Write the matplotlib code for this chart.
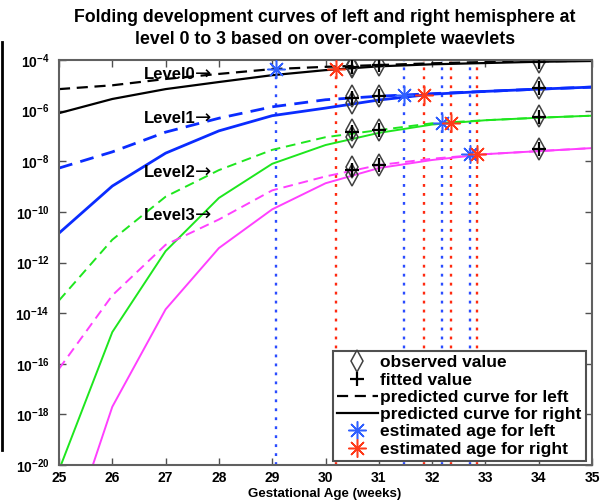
import matplotlib
matplotlib.use("Agg")
import matplotlib.pyplot as plt
from matplotlib.lines import Line2D
from matplotlib.ticker import NullLocator
import numpy as np

plt.rcParams['font.family'] = ['Liberation Sans', 'DejaVu Sans']
plt.rcParams['font.weight'] = 'bold'
plt.rcParams['mathtext.fontset'] = 'custom'
plt.rcParams['mathtext.rm'] = 'Liberation Sans:bold'
plt.rcParams['mathtext.bf'] = 'Liberation Sans:bold'

# ---------------- data (log10 values) ----------------
weeks = [25, 26, 27, 28, 29, 30, 31, 32, 33, 34, 35]

level0_left = [-5.15, -5.0, -4.75, -4.55, -4.36, -4.27, -4.2, -4.13, -4.08, -4.05, -4.03]
level0_right = [-6.1, -5.54, -5.15, -4.87, -4.6, -4.4, -4.25, -4.17, -4.12, -4.07, -4.04]
level1_left = [-8.27, -7.63, -6.85, -6.3, -5.85, -5.57, -5.43, -5.33, -5.24, -5.15, -5.07]
level1_right = [-10.84, -8.98, -7.68, -6.8, -6.2, -5.9, -5.58, -5.35, -5.24, -5.15, -5.07]
level2_left = [-13.5, -11.1, -9.4, -8.35, -7.55, -7.05, -6.77, -6.5, -6.38, -6.28, -6.2]
level2_right = [-20.2, -14.75, -11.55, -9.45, -8.1, -7.36, -6.88, -6.55, -6.38, -6.28, -6.2]
level3_left = [-16.2, -13.3, -11.3, -10.3, -9.15, -8.6, -8.15, -7.9, -7.72, -7.6, -7.48]
level3_right = [-24.0, -17.7, -13.85, -11.43, -9.9, -8.87, -8.27, -7.95, -7.72, -7.6, -7.48]

obs_weeks = [30.5, 30.5, 31, 34]
obs_level0 = [-4.24, -4.28, -4.18, -4.06]
obs_level1 = [-5.44, -5.68, -5.44, -5.09]
obs_level2 = [-6.75, -7.06, -6.75, -6.23]
obs_level3 = [-8.21, -8.53, -8.13, -7.5]

fit_weeks = [30.5, 31, 34]
fit_level0 = [-4.27, -4.19, -4.06]
fit_level1 = [-5.52, -5.44, -5.1]
fit_level2 = [-6.85, -6.76, -6.24]
fit_level3 = [-8.35, -8.15, -7.5]

est_left_age = [29.08, 31.48, 32.19, 32.72]
est_left_val = [-4.34, -5.37, -6.48, -7.72]
est_right_age = [30.2, 31.85, 32.36, 32.85]
est_right_val = [-4.37, -5.38, -6.48, -7.72]

level_labels = ['Level0', 'Level1', 'Level2', 'Level3']
level_label_y = [-4.57, -6.3, -8.45, -10.15]

xticks = [25, 26, 27, 28, 29, 30, 31, 32, 33, 34, 35]
yexps = [-20, -18, -16, -14, -12, -10, -8, -6, -4]

# ---------------- figure ----------------
fig = plt.figure(figsize=(6.1, 5), dpi=100)
ax = fig.add_axes([59 / 610, 35 / 500, 533 / 610, 405 / 500])
ax.set_yscale('log')

w = np.array(weeks)
pw = lambda v: 10.0 ** np.array(v)

blue = '#0a2cff'
green = '#1ee61e'
magenta = '#ff40ff'
dash = (0, (5, 3))

# vertical dotted lines
for a in est_left_age:
    ax.axvline(a, color='#2a4cff', lw=1.7, ls=(0, (1.2, 2.6)), zorder=1)
for a in est_right_age:
    ax.axvline(a, color='#ff2a10', lw=1.7, ls=(0, (1.2, 2.6)), zorder=1)

curves = [
    (level0_left, level0_right, 'black', 1.6),
    (level1_left, level1_right, blue, 2.0),
    (level2_left, level2_right, green, 1.4),
    (level3_left, level3_right, magenta, 1.4),
]
for left, right, col, lw in curves:
    ax.plot(w, pw(left), color=col, lw=lw, ls=dash, zorder=2)
    ax.plot(w, pw(right), color=col, lw=lw, ls='-', zorder=2)

for obs in [obs_level0, obs_level1, obs_level2, obs_level3]:
    ax.plot(obs_weeks, pw(obs), ls='none', marker='d', ms=11, mfc='none',
            mec='#404040', mew=1.1, zorder=3)
for fit in [fit_level0, fit_level1, fit_level2, fit_level3]:
    ax.plot(fit_weeks, pw(fit), ls='none', marker='+', ms=10, color='black',
            mew=1.6, zorder=4)

ax.plot(est_left_age, pw(est_left_val), ls='none', marker=(8, 2, 0), ms=13,
        color='#3060ff', mew=1.1, zorder=5)
ax.plot(est_right_age, pw(est_right_val), ls='none', marker=(8, 2, 0), ms=13,
        color='#ff3a1a', mew=1.1, zorder=5)

for lab, ly in zip(level_labels, level_label_y):
    ax.text(26.6, 10.0 ** ly, lab, fontsize=12, fontweight='bold', va='center',
            ha='left', zorder=6)
    ax.annotate('\u2192', xy=(26.6, 10.0 ** ly), xytext=(36.5, 0),
                textcoords='offset points', fontsize=14, family='DejaVu Sans',
                fontweight='normal', va='center', ha='left', zorder=6)

ax.set_xlim(25, 35)
ax.set_ylim(1e-20, 1e-4)
ax.set_xticks(xticks)
ax.set_xticklabels([str(t) for t in xticks])
ax.set_yticks([10.0 ** e for e in yexps])
ax.set_yticklabels([r'$\mathbf{10^{%d}}$' % e for e in yexps])
ax.yaxis.set_minor_locator(NullLocator())
ax.tick_params(direction='in', length=5, width=1.0, color='#505050',
               top=True, right=True, labelsize=10)
ax.tick_params(axis='y', pad=7)
ax.tick_params(axis='x', pad=4.5)
for lab in ax.get_xticklabels() + ax.get_yticklabels():
    lab.set_fontweight('bold')
for sp in ax.spines.values():
    sp.set_color('#606060')
    sp.set_linewidth(1.5)

handles = [
    Line2D([], [], ls='none', marker='d', ms=11, mfc='none', mec='#404040', mew=1.1),
    Line2D([], [], ls='none', marker='+', ms=10, color='black', mew=1.6),
    Line2D([], [], ls=dash, color='black', lw=1.6),
    Line2D([], [], ls='-', color='black', lw=1.6),
    Line2D([], [], ls='none', marker=(8, 2, 0), ms=13, color='#3060ff', mew=1.1),
    Line2D([], [], ls='none', marker=(8, 2, 0), ms=13, color='#ff3a1a', mew=1.1),
]
labels = ['observed value', 'fitted value', 'predicted curve for left',
          'predicted curve for right', 'estimated age for left',
          'estimated age for right']
leg = ax.legend(handles, labels, loc='lower right',
                bbox_to_anchor=(586 / 610, 1 - 461 / 500),
                bbox_transform=fig.transFigure, borderaxespad=0,
                fancybox=False, framealpha=1, edgecolor='#505050',
                prop={'size': 12.5, 'weight': 'bold'}, handlelength=2.35,
                handletextpad=0.15, labelspacing=0.12, borderpad=0.25)
leg.get_frame().set_linewidth(1.5)
leg.set_zorder(10)

fig.text(325 / 610, 1 - 17 / 500,
         'Folding development curves of left and right hemisphere at',
         ha='center', va='center', fontsize=12.8, fontweight='bold')
fig.text(325 / 610, 1 - 40 / 500,
         'level 0 to 3 based on over-complete waevlets',
         ha='center', va='center', fontsize=12.8, fontweight='bold')
fig.text(325 / 610, 1 - 497.3 / 500, 'Gestational Age (weeks)',
         ha='center', va='baseline', fontsize=9.6, fontweight='bold')

fig.add_artist(Line2D([1.5 / 610, 1.5 / 610], [1 - 42 / 500, 1 - 450 / 500],
                      color='black', lw=2, transform=fig.transFigure))

fig.savefig('out.png', dpi=100)
